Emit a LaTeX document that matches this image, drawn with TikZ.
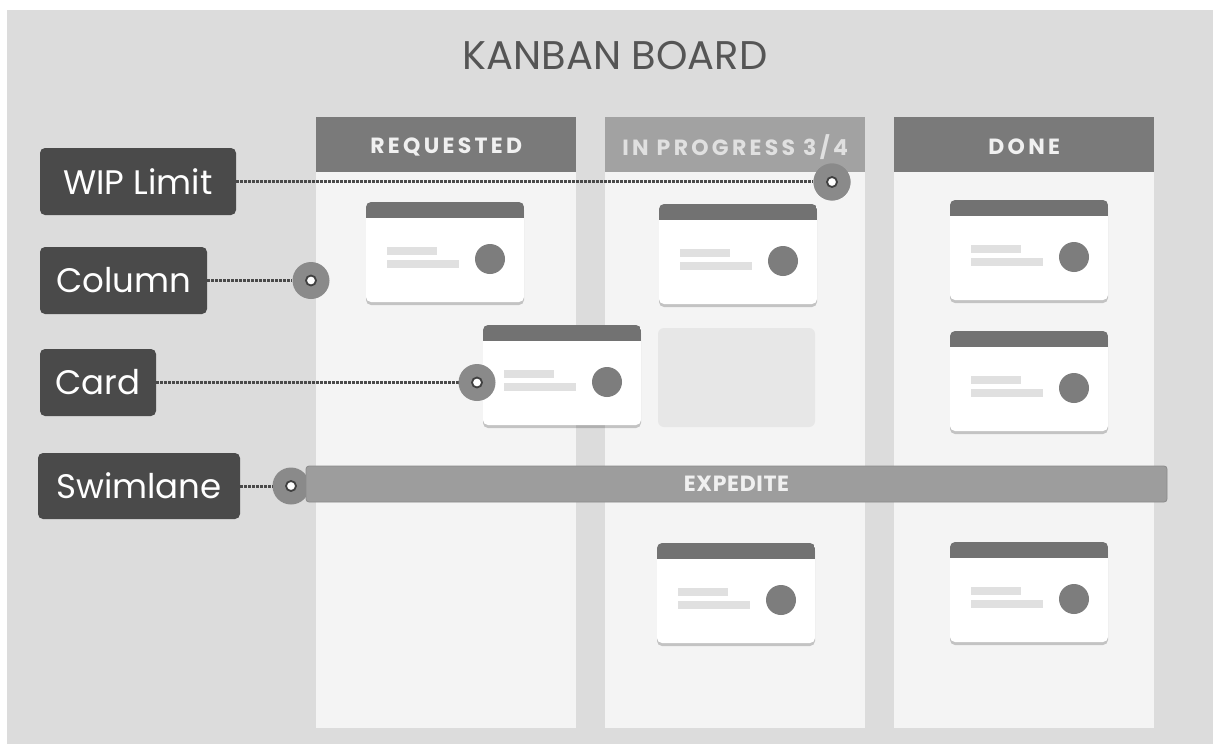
\documentclass[tikz,border=0pt]{standalone}
\usepackage{fontspec}
\setmainfont{Poppins}
\newfontfamily\hdrfont[LetterSpace=15]{Poppins}
\newfontfamily\lanefont[LetterSpace=3]{Poppins}
\usetikzlibrary{shadows}
\definecolor{bg}{HTML}{DCDCDC}
\definecolor{colbg}{HTML}{F4F4F4}
\definecolor{hdark}{HTML}{7A7A7A}
\definecolor{hlight}{HTML}{A2A2A2}
\definecolor{labfill}{HTML}{4A4A4A}
\definecolor{cardhead}{HTML}{727272}
\definecolor{carddot}{HTML}{7D7D7D}
\definecolor{cardline}{HTML}{E0E0E0}
\definecolor{phfill}{HTML}{E7E7E7}
\definecolor{lanefill}{HTML}{9D9D9D}
\definecolor{markfill}{HTML}{8A8A8A}
\definecolor{dotcol}{HTML}{4A4A4A}
\definecolor{titlecol}{HTML}{555555}
\newcommand\kcard[3]{%
  \begin{scope}[shift={(#2,#3)}]
    \node[cardbox] (#1) at (79,50) {};
    \begin{scope}
      \clip[rounded corners=5pt] (0,0) rectangle (158,100);
      \fill[cardhead] (0,0) rectangle (158,16);
    \end{scope}
    \fill[cardline] (21,45) rectangle (71,53);
    \fill[cardline] (21,58) rectangle (93,66);
    \fill[carddot] (124,57) circle (15pt);
  \end{scope}}
\begin{document}
\begin{tikzpicture}[x=1pt,y=-1pt,
  titlestyle/.style={text=titlecol, font=\fontsize{40}{44}\selectfont, inner sep=0pt},
  colbody/.style={fill=colbg, anchor=north west, minimum width=260pt, minimum height=611pt, inner sep=0pt},
  colhead/.style={anchor=north west, minimum width=260pt, minimum height=55pt, inner sep=0pt},
  coltext/.style={inner sep=0pt, font=\hdrfont\bfseries\fontsize{22}{24}\selectfont},
  cardbox/.style={fill=white, rounded corners=5pt, minimum width=158pt, minimum height=100pt, inner sep=0pt,
     drop shadow={shadow xshift=0pt, shadow yshift=-3pt, opacity=0.2, fill=black}},
  placeholder/.style={fill=phfill, rounded corners=6pt, minimum width=157pt, minimum height=99pt, inner sep=0pt},
  lanebar/.style={fill=lanefill, draw=markfill, line width=0.8pt, rounded corners=3pt, minimum width=861pt, minimum height=36pt,
     inner sep=0pt, text=white!94!black, font=\lanefont\bfseries\fontsize{22}{24}\selectfont},
  labelbox/.style={fill=labfill, rounded corners=5pt, minimum height=67pt, inner sep=0pt, text=white,
     font=\fontsize{34}{38}\selectfont},
  marker/.style={circle, fill=markfill, minimum size=37pt, inner sep=0pt,
     path picture={\draw[draw=black!75, line width=1.8pt, fill=white] (path picture bounding box.center) circle (5pt);}},
  dots/.style={draw=dotcol, line width=3pt, dash pattern=on 2.4pt off 1.6pt}
]
\useasboundingbox (0,0) rectangle (1213,744);
\fill[white] (0,0) rectangle (1213,744);
\fill[bg] (7,10) rectangle (1213,744);

\node[titlestyle] (title) at (615,56) {KANBAN BOARD};

% columns
\node[colbody] (creq) at (316,117) {};
\node[colbody] (cip) at (605,117) {};
\node[colbody] (cdone) at (894,117) {};
\node[colhead, fill=hdark] (hreq) at (316,117) {};
\node[colhead, fill=hlight] (hip) at (605,117) {};
\node[colhead, fill=hdark] (hdone) at (894,117) {};
\node[coltext, text=white!94!black] (treq) at ([yshift=-2.5pt]hreq.center) {REQUESTED};
\node[coltext, text=white!88!black] (tip) at ([yshift=-2.5pt]hip.center) {IN PROGRESS 3/4};
\node[coltext, text=white!94!black] (tdone) at ([yshift=-2.5pt]hdone.center) {DONE};

% labels
\node[labelbox, minimum width=196pt] (lwip) at (138,181.5) {WIP Limit};
\node[labelbox, minimum width=167pt] (lcol) at (123.5,280.5) {Column};
\node[labelbox, minimum width=116pt] (lcard) at (98,382.5) {Card};
\node[labelbox, minimum width=202pt, minimum height=66pt] (llane) at (139,486) {Swimlane};

% cards
\kcard{c1}{366}{202}
\kcard{c2}{659}{204}
\kcard{c3}{950}{200}
\node[placeholder] (ph) at (736.5,377.5) {};
\kcard{c5}{950}{331}
\kcard{c6}{657}{543}
\kcard{c7}{950}{542}

% WIP connector
\node[marker] (mwip) at (832,182) {};
\draw[dots] (lwip.east) -- (lwip.east -| mwip.west);
\node[marker] at (mwip) {};

% Column connector
\node[marker] (mcol) at (311,280.5) {};
\draw[dots] (lcol.east) -- (mcol.west);

% moved card + connector
\kcard{c4}{483}{325}
\draw[dots] (lcard.east) -- (lcard.east -| c4.west);
\node[marker] (mcard) at (477,382.5) {};

% swimlane
\node[marker] (mlane) at (291,486) {};
\draw[dots] (llane.east) -- (mlane.west);
\node[lanebar] (lane) at (736.5,484) {EXPEDITE};
\end{tikzpicture}
\end{document}
